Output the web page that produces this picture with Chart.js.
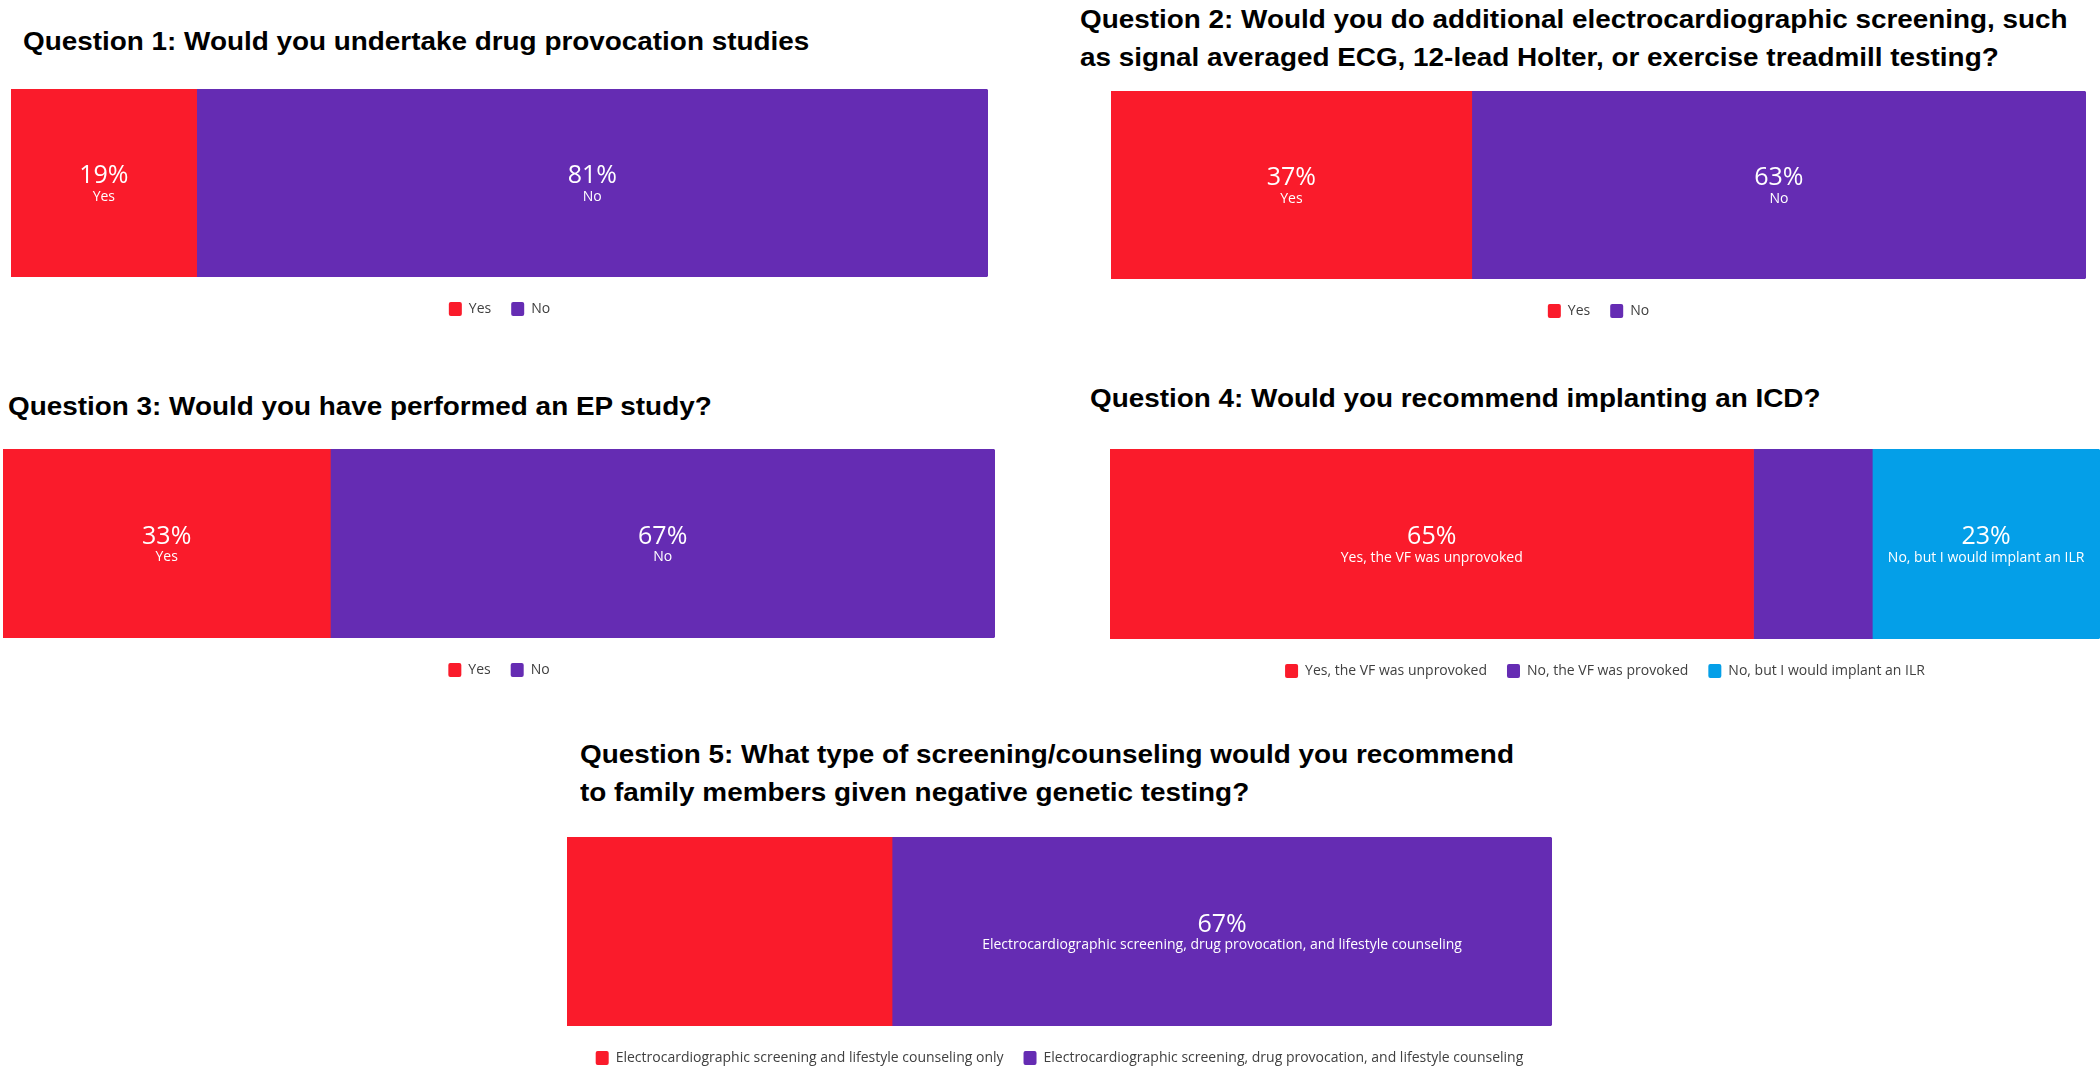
<!DOCTYPE html>
<html>
<head>
<meta charset="utf-8">
<script src="https://cdn.jsdelivr.net/npm/chart.js@4.4.0/dist/chart.umd.min.js"></script>
<style>
    body { margin: 0; width: 2100px; height: 1069px; overflow: hidden; background: #fff; position: relative; }
    .titre {
        position: absolute; white-space: nowrap;
        font-family: "Liberation Sans", Arial, sans-serif; font-weight: bold;
        font-size: 25px; line-height: 33px; color: #000;
        transform: scaleX(1.115); transform-origin: left top;
    }
    .deux-lignes { line-height: 38px; }
    .panneau { position: absolute; }
    canvas { display: block; }
</style>
</head>
<body>

<div class="titre" style="left:23px; top:25px">Question 1: Would you undertake drug provocation studies</div>
<div class="titre deux-lignes" style="left:1080px; top:0px">Question 2: Would you do additional electrocardiographic screening, such<br>as signal averaged ECG, 12-lead Holter, or exercise treadmill testing?</div>
<div class="titre" style="left:8px; top:390px">Question 3: Would you have performed an EP study?</div>
<div class="titre" style="left:1090px; top:382px">Question 4: Would you recommend implanting an ICD?</div>
<div class="titre deux-lignes" style="left:580px; top:735px">Question 5: What type of screening/counseling would you recommend<br>to family members given negative genetic testing?</div>

<div class="panneau" style="left:11px; top:89px"><canvas id="q1" width="977" height="237"></canvas></div>
<div class="panneau" style="left:1111px; top:91px"><canvas id="q2" width="975" height="237"></canvas></div>
<div class="panneau" style="left:3px; top:449px"><canvas id="q3" width="992" height="238"></canvas></div>
<div class="panneau" style="left:1110px; top:449px"><canvas id="q4" width="990" height="239"></canvas></div>
<div class="panneau" style="left:567px; top:837px"><canvas id="q5" width="985" height="238"></canvas></div>

<script>
// --- DONNÉES ---
const q1Reponses = ['Yes', 'No'];
const q1Pourcent = [19, 81];

const q2Reponses = ['Yes', 'No'];
const q2Pourcent = [37, 63];

const q3Reponses = ['Yes', 'No'];
const q3Pourcent = [33, 67];

const q4Reponses = ['Yes, the VF was unprovoked', 'No, the VF was provoked', 'No, but I would implant an ILR'];
const q4Pourcent = [65, 12, 23];

const q5Reponses = ['Electrocardiographic screening and lifestyle counseling only',
                    'Electrocardiographic screening, drug provocation, and lifestyle counseling'];
const q5Pourcent = [33, 67];

const couleurs = ['#fa1b2b', '#652cb3', '#049fe8'];

// étiquettes dans les barres (cachées si le segment est trop étroit)
const etiquettesBarres = {
    id: 'etiquettesBarres',
    afterDatasetsDraw(chart) {
        const ctx = chart.ctx;
        chart.data.datasets.forEach((ds, i) => {
            const bar = chart.getDatasetMeta(i).data[0];
            const largeur = Math.abs(bar.x - bar.base);
            ctx.save();
            ctx.font = '14px "Open Sans"';
            if (ctx.measureText(ds.label).width > largeur - 10) { ctx.restore(); return; }
            const cx = (bar.x + bar.base) / 2;
            ctx.fillStyle = '#ffffff';
            ctx.textAlign = 'center';
            ctx.textBaseline = 'middle';
            ctx.fillText(ds.label, cx, bar.y + 14);
            ctx.font = '25px "Open Sans"';
            ctx.fillText(ds.data[0] + '%', cx, bar.y - 7);
            ctx.restore();
        });
    }
};

function creerBarre(id, reponses, valeurs) {
    const ctx = document.getElementById(id).getContext('2d');
    return new Chart(ctx, {
        type: 'bar',
        data: {
            labels: [''],
            datasets: reponses.map((rep, i) => ({
                label: rep,
                data: [valeurs[i]],
                backgroundColor: couleurs[i],
                borderWidth: 0,
                borderRadius: 3,
                barPercentage: 1,
                categoryPercentage: 1
            }))
        },
        options: {
            indexAxis: 'y',
            responsive: false,
            animation: false,
            layout: { padding: 0 },
            scales: {
                x: { stacked: true, display: false, min: 0, max: 100 },
                y: { stacked: true, display: false }
            },
            plugins: {
                tooltip: { enabled: false },
                legend: {
                    position: 'bottom',
                    title: { display: true, text: '', padding: 0, font: { size: 5, lineHeight: 1 } },
                    labels: {
                        boxWidth: 13, boxHeight: 14, padding: 20,
                        useBorderRadius: true, borderRadius: 2,
                        color: '#404040',
                        font: { family: '"Open Sans"', size: 14 }
                    }
                }
            }
        },
        plugins: [etiquettesBarres]
    });
}

creerBarre('q1', q1Reponses, q1Pourcent);
creerBarre('q2', q2Reponses, q2Pourcent);
creerBarre('q3', q3Reponses, q3Pourcent);
creerBarre('q4', q4Reponses, q4Pourcent);
creerBarre('q5', q5Reponses, q5Pourcent);
</script>
</body>
</html>
